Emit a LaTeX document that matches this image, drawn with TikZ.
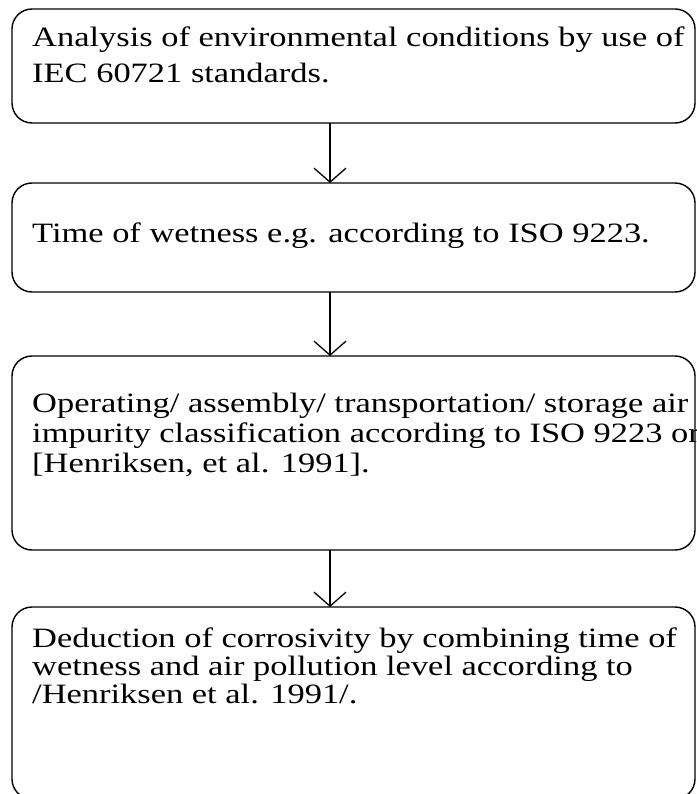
\documentclass[tikz,border=0pt]{standalone}
\usepackage{fontspec}
\setmainfont{Liberation Serif}[FakeStretch=1.23]
\usetikzlibrary{arrows.meta}
\begin{document}
\begin{tikzpicture}[x=1pt,y=1pt,
  box/.style={draw, line width=1.4pt, rounded corners=20pt, minimum width=683pt, anchor=north west, inner sep=0pt, outer sep=0pt},
  txt/.style={anchor=base west, inner sep=0pt, align=left},
  conn/.style={line width=1.3pt, -{Straight Barb[length=14pt,width=32pt,line width=1.3pt]}}]
\useasboundingbox (0,0) rectangle (696,-794);
\clip (0,0) rectangle (696,-794);
\node[box, minimum height=114pt] (b1) at (12,-9) {};
\node[box, minimum height=109pt] (b2) at (12,-183) {};
\node[box, minimum height=194pt] (b3) at (12,-356) {};
\node[box, minimum height=192pt] (b4) at (12,-607) {};
\node[txt, font=\fontsize{28}{36}\selectfont] (t1) at (32,-83) {Analysis of environmental conditions by use of\\IEC 60721 standards.};
\node[txt, font=\fontsize{28}{30}\selectfont] (t2) at (32,-243) {Time of wetness e.g. according to ISO 9223.};
\node[txt, font=\fontsize{28}{30}\selectfont] (t3) at (32,-472) {Operating/ assembly/ transportation/ storage air\\impurity classification according to ISO 9223 or\\{[Henriksen, et al. 1991].}};
\node[txt, font=\fontsize{28}{28}\selectfont] (t4) at (32,-703) {Deduction of corrosivity by combining time of\\wetness and air pollution level according to\\/Henriksen et al. 1991/.};
\draw[conn] (b1.south -| 330,0) -- (b2.north -| 330,0);
\draw[conn] (b2.south -| 330,0) -- (b3.north -| 330,0);
\draw[conn] (b3.south -| 330,0) -- (b4.north -| 330,0);
\end{tikzpicture}
\end{document}
